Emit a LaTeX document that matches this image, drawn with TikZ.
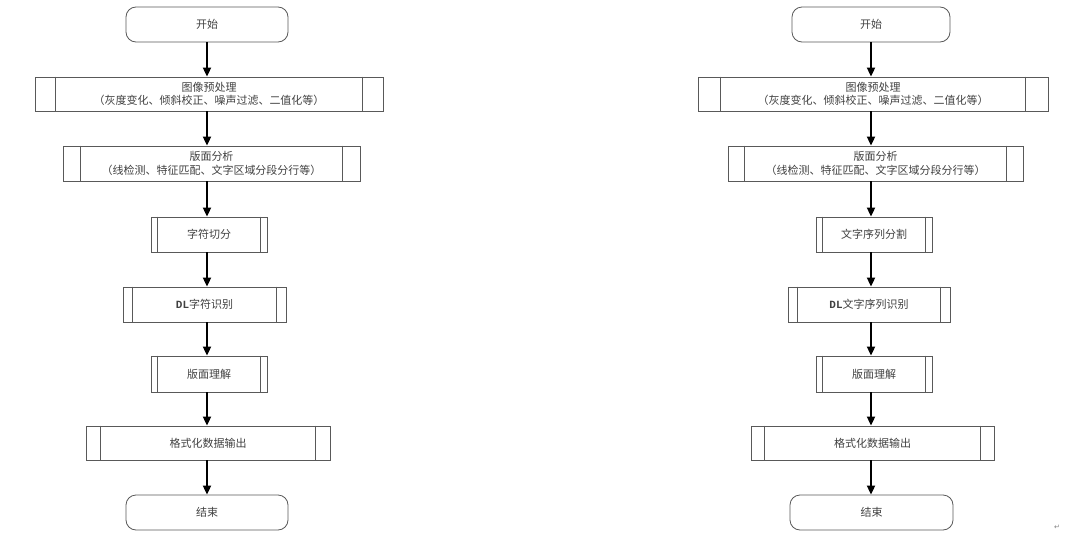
\documentclass[tikz,border=0pt]{standalone}
\usepackage{fontspec}
\setmainfont{Liberation Serif}
\newfontfamily\cjk{Noto Sans CJK SC}
\newfontfamily\symf{DejaVu Sans}
\usetikzlibrary{arrows.meta,positioning}
\tikzset{
  box/.style={draw=black!65, line width=0.8pt, minimum height=35pt, inner sep=0pt, font=\cjk\fontsize{11}{13.5}\selectfont, text=black!75, align=center},
  term/.style={box, rounded corners=10pt},
  proc/.style={box},
  arr/.style={line width=1.8pt, -{Triangle[length=9pt,width=8pt]}},
  inner/.style={draw=black!65, line width=0.8pt}
}
\newcommand\procbox[7]{%
  \node[proc, minimum width=#4pt, minimum height=#5pt] (#1) at (#2,#3) {#7};
  \draw[inner] ([xshift=#6pt]#1.north west) -- ([xshift=#6pt]#1.south west);
  \draw[inner] ([xshift=-#6pt]#1.north east) -- ([xshift=-#6pt]#1.south east);
}
\begin{document}
\begin{tikzpicture}[x=1pt,y=-1pt]
\useasboundingbox (0,0) rectangle (1080,549);
% left chart
\node[term, minimum width=162pt] (ls) at (207,24.5) {开始};
\procbox{lp}{209}{94}{348}{34}{21}{图像预处理\\（灰度变化、倾斜校正、噪声过滤、二值化等）}
\procbox{ll}{211.5}{163.5}{297}{35}{18}{版面分析\\（线检测、特征匹配、文字区域分段分行等）}
\procbox{lc}{209}{234.5}{116}{35}{7}{字符切分}
\procbox{ld}{204.5}{304.5}{163}{35}{10}{{\fontspec{Liberation Mono}\bfseries DL}字符识别}
\procbox{lu}{209}{374}{116}{36}{7}{版面理解}
\procbox{lf}{208}{443}{244}{34}{15}{格式化数据输出}
\node[term, minimum width=162pt] (le) at (207,512.5) {结束};
\foreach \a/\b in {ls/lp,lp/ll,ll/lc,lc/ld,ld/lu,lu/lf,lf/le}
  \draw[arr] (ls.south |- \a.south) -- (ls.south |- \b.north);
% right chart
\node[term, minimum width=158pt] (rs) at (871,24.5) {开始};
\procbox{rp}{873}{94}{350}{34}{23}{图像预处理\\（灰度变化、倾斜校正、噪声过滤、二值化等）}
\procbox{rl}{875.5}{163.5}{295}{35}{17}{版面分析\\（线检测、特征匹配、文字区域分段分行等）}
\procbox{rc}{874}{234.5}{116}{35}{7}{文字序列分割}
\procbox{rd}{869}{304.5}{162}{35}{10}{{\fontspec{Liberation Mono}\bfseries DL}文字序列识别}
\procbox{ru}{874}{374}{116}{36}{7}{版面理解}
\procbox{rf}{872.5}{443}{243}{34}{14}{格式化数据输出}
\node[term, minimum width=163pt] (re) at (871.5,512.5) {结束};
\foreach \a/\b in {rs/rp,rp/rl,rl/rc,rc/rd,rd/ru,ru/rf,rf/re}
  \draw[arr] (rs.south |- \a.south) -- (rs.south |- \b.north);
\node[font=\symf\fontsize{7}{8}\selectfont, text=black!50, inner sep=0pt] (mark) at (1057,527) {↵};
\end{tikzpicture}
\end{document}
